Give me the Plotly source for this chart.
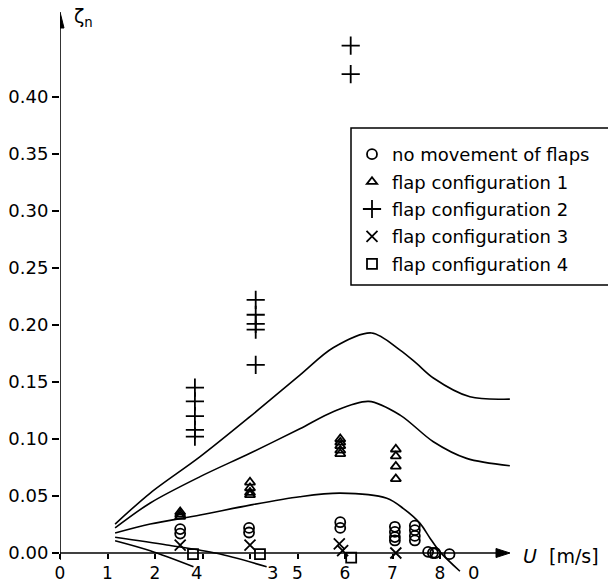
import plotly.graph_objects as go

# ---------------- data ----------------
# measured points: flow velocity U [m/s] and zeta_n
noflap_x = [2.53, 2.53, 3.98, 3.98, 5.9, 5.9, 7.05, 7.05, 7.05, 7.05,
            7.47, 7.47, 7.47, 7.47, 7.75, 7.85, 7.9, 8.2]
noflap_y = [0.021, 0.017, 0.022, 0.018, 0.027, 0.022, 0.023, 0.0185, 0.014, 0.011,
            0.024, 0.020, 0.015, 0.011, 0.001, 0.0, 0.0, -0.001]

conf1_x = [2.53, 2.53, 2.53, 4.0, 4.0, 4.0, 4.0,
           5.9, 5.9, 5.9, 5.9, 5.9, 7.07, 7.07, 7.07, 7.07]
conf1_y = [0.036, 0.034, 0.032, 0.062, 0.057, 0.053, 0.051,
           0.100, 0.097, 0.094, 0.090, 0.087, 0.091, 0.085, 0.076, 0.065]

conf2_x = [2.84, 2.84, 2.84, 2.84, 2.84, 4.12, 4.12, 4.12, 4.12, 4.12, 6.12, 6.12]
conf2_y = [0.145, 0.133, 0.120, 0.108, 0.102, 0.222, 0.209, 0.201, 0.196, 0.165, 0.445, 0.420]

conf3_x = [2.53, 4.0, 5.88, 5.95, 7.07]
conf3_y = [0.007, 0.007, 0.008, 0.002, 0.0]

conf4_x = [2.8, 4.21, 6.13]
conf4_y = [-0.001, -0.001, -0.004]

# model curves
curve2_x = [1.16, 1.9, 2.95, 4.0, 5.05, 5.75, 6.56, 7.16, 7.5, 7.86, 8.63, 9.47]
curve2_y = [0.0254, 0.0526, 0.0845, 0.1196, 0.156, 0.180, 0.193, 0.178, 0.1665, 0.1535, 0.137, 0.135]

curve1_x = [1.16, 1.9, 2.95, 4.0, 5.05, 5.75, 6.5, 7.16, 7.86, 8.56, 9.47]
curve1_y = [0.022, 0.0439, 0.067, 0.0875, 0.109, 0.124, 0.133, 0.121, 0.0976, 0.083, 0.0766]

curve0_x = [1.16, 1.9, 2.95, 4.0, 5.05, 5.9, 6.88, 7.23, 7.58, 7.79, 8.0, 8.42]
curve0_y = [0.0175, 0.0254, 0.0333, 0.042, 0.0494, 0.0525, 0.048, 0.039, 0.026, 0.013, 0.001, -0.016]

curve3_x = [1.16, 2.25, 3.3, 4.35]
curve3_y = [0.0138, 0.007, -0.0003, -0.012]

curve4_x = [1.16, 1.9, 2.81]
curve4_y = [0.0108, 0.002, -0.012]

curve_labels = ["2", "1", "0", "3", "4"]
label_x = [9.73, 9.73, 8.7, 4.48, 2.88]
label_y = [0.132, 0.070, -0.0175, -0.017, -0.017]

x_tickvals = [0, 1, 2, 5, 6, 7, 8]
x_ticktext = ["0", "1", "2", "5", "6", "7", "8"]
x_unlabelled_ticks = [3, 4]
y_tickvals = [0.0, 0.05, 0.10, 0.15, 0.20, 0.25, 0.30, 0.35, 0.40]
y_ticktext = ["0.00", "0.05", "0.10", "0.15", "0.20", "0.25", "0.30", "0.35", "0.40"]

legend_names = ["no movement of flaps", "flap configuration 1", "flap configuration 2",
                "flap configuration 3", "flap configuration 4"]

# ---------------- layout geometry ----------------
W, H = 608, 585
L, R_PX = 60, 510          # plot area left/right in px
T_PX, B_PX = 12, 583       # plot area top/bottom in px
ZERO_PX = 553              # pixel row of zeta = 0
PX_PER_Y = 1140.0
PX_PER_X = 47.5

x_max = (R_PX - L) / PX_PER_X
y_top = (ZERO_PX - T_PX) / PX_PER_Y
y_bot = -(B_PX - ZERO_PX) / PX_PER_Y
xaxis_pos = (0 - y_bot) / (y_top - y_bot)


def px_x(p):
    return (p - L) / (R_PX - L)


def px_y(p):
    return (B_PX - p) / (B_PX - T_PX)


FONT = "DejaVu Sans"
ink = "black"

fig = go.Figure()

# curves
for cx, cy in [(curve2_x, curve2_y), (curve1_x, curve1_y), (curve0_x, curve0_y),
               (curve3_x, curve3_y), (curve4_x, curve4_y)]:
    fig.add_trace(go.Scatter(x=cx, y=cy, mode="lines",
                             line=dict(color=ink, width=1.6, shape="spline", smoothing=0.9),
                             showlegend=False, hoverinfo="skip"))

series = [
    (noflap_x, noflap_y, "circle-open", 10),
    (conf1_x, conf1_y, "triangle-up-open", 9),
    (conf2_x, conf2_y, "cross-thin-open", 13),
    (conf3_x, conf3_y, "x-thin-open", 11),
    (conf4_x, conf4_y, "square-open", 10),
]
for i, ((sx, sy, sym, sz), name) in enumerate(zip(series, legend_names)):
    fig.add_trace(go.Scatter(x=sx, y=sy, mode="markers", name=name, legendgroup=f"g{i}",
                             marker=dict(symbol=sym, size=sz, color=ink, line=dict(color=ink, width=1.8)),
                             cliponaxis=False))

# curve labels
for t, lx, ly in zip(curve_labels, label_x, label_y):
    fig.add_annotation(x=lx, y=ly, text=t, showarrow=False, yanchor="middle",
                       font=dict(family=FONT, size=18, color=ink))

# axis lines with arrowheads
ah_x = 14 / PX_PER_X
aw_y = 4.5 / PX_PER_Y
ah_y = 16 / PX_PER_Y
aw_x = 4 / PX_PER_X
fig.add_shape(type="line", xref="x", yref="y", x0=-5 / PX_PER_X, x1=x_max - ah_x, y0=0, y1=0,
              line=dict(color=ink, width=1.6))
fig.add_shape(type="path", xref="x", yref="y",
              path=f"M {x_max - ah_x},{-aw_y} L {x_max},0 L {x_max - ah_x},{aw_y} Z",
              line=dict(color=ink, width=1), fillcolor=ink)
fig.add_shape(type="line", xref="x", yref="y", x0=0, x1=0, y0=-7 / PX_PER_Y, y1=y_top - ah_y,
              line=dict(color=ink, width=1.6))
fig.add_shape(type="path", xref="x", yref="y",
              path=f"M {-aw_x},{y_top - ah_y} L 0,{y_top} L {aw_x},{y_top - ah_y} Z",
              line=dict(color=ink, width=1), fillcolor=ink)

# axis titles
fig.add_annotation(x=px_x(72), y=px_y(18), xref="paper", yref="paper",
                   text="ζ<sub>n</sub>", showarrow=False, xanchor="left", yanchor="middle",
                   font=dict(family=FONT, size=19, color=ink))
fig.add_annotation(x=px_x(521), y=px_y(556), xref="paper", yref="paper",
                   text="<i>U</i>\u00a0\u00a0[m/s]", showarrow=False, xanchor="left", yanchor="middle",
                   font=dict(family=FONT, size=19, color=ink))

# legend frame
fig.add_shape(type="rect", xref="paper", yref="paper",
              x0=px_x(351), x1=px_x(640), y0=px_y(285), y1=px_y(128),
              line=dict(color=ink, width=1.5), fillcolor="rgba(0,0,0,0)")

fig.update_layout(
    width=W, height=H,
    margin=dict(l=L, r=W - R_PX, t=T_PX, b=H - B_PX, autoexpand=False),
    paper_bgcolor="white", plot_bgcolor="white",
    font=dict(family=FONT, size=18, color=ink),
    showlegend=True,
    legend=dict(x=px_x(352), y=px_y(136), xanchor="left", yanchor="top",
                bgcolor="rgba(0,0,0,0)", borderwidth=0, font=dict(family=FONT, size=18, color=ink),
                tracegroupgap=1, itemsizing="trace"),
    xaxis=dict(range=[0, x_max], anchor="free", position=xaxis_pos, showgrid=False, zeroline=False,
               showline=False, ticks="outside", ticklen=5, tickwidth=1.5, tickcolor=ink,
               tickvals=x_tickvals, ticktext=x_ticktext, tickfont=dict(family=FONT, size=17),
               minor=dict(tickvals=x_unlabelled_ticks, ticks="outside", ticklen=5, tickwidth=1.5,
                          tickcolor=ink, showgrid=False)),
    yaxis=dict(range=[y_bot, y_top], showgrid=False, zeroline=False, showline=False,
               ticks="outside", ticklen=7, tickwidth=1.5, tickcolor=ink,
               tickvals=y_tickvals, ticktext=y_ticktext, tickfont=dict(family=FONT, size=18)),
)

fig.write_html("out.html")
